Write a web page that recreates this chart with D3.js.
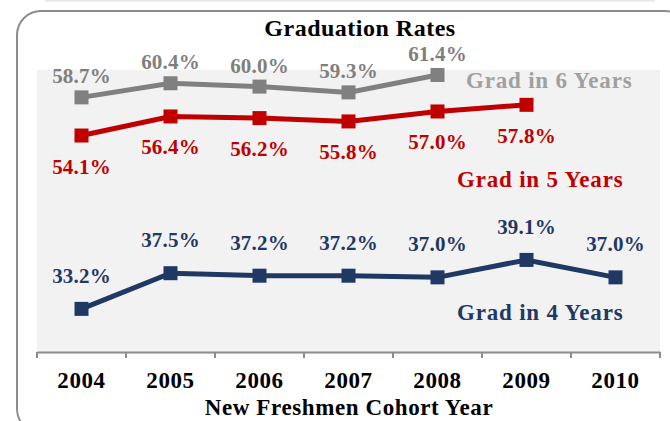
<!DOCTYPE html>
<html>
<head>
<meta charset="utf-8">
<script src="https://cdn.jsdelivr.net/npm/d3@7"></script>
<style>
  html, body { margin: 0; padding: 0; background: #fff; }
  svg { display: block; }
  svg text { font-family: "Liberation Serif", "Times New Roman", Times, serif; font-weight: bold; }
</style>
</head>
<body>
<svg id="chart" width="670" height="421"></svg>
<script>
// --- Data ---
const years = ["2004", "2005", "2006", "2007", "2008", "2009", "2010"];
const grad6 = [58.7, 60.4, 60.0, 59.3, 61.4, null, null];
const grad5 = [54.1, 56.4, 56.2, 55.8, 57.0, 57.8, null];
const grad4 = [33.2, 37.5, 37.2, 37.2, 37.0, 39.1, 37.0];
const seriesNames = ["Grad in 6 Years", "Grad in 5 Years", "Grad in 4 Years"];

const svg = d3.select("#chart");
const plot = { left: 37, right: 660, top: 70, bottom: 352 };

// outer rounded frame + faint top rule
svg.append("line")
  .attr("x1", 45).attr("x2", 655).attr("y1", 0.5).attr("y2", 0.5)
  .attr("stroke", "#e6e6e6").attr("stroke-width", 2);
svg.append("rect")
  .attr("x", 17).attr("y", 11).attr("width", 672).attr("height", 422)
  .attr("rx", 24).attr("fill", "none")
  .attr("stroke", "#8c8c8c").attr("stroke-width", 2);

const x = d3.scaleBand().domain(years).range([plot.left, plot.right]);
const y = d3.scaleLinear().domain([28, 62]).range([plot.bottom, plot.top]);
const cx = (d) => x(d) + x.bandwidth() / 2;

svg.append("rect")
  .attr("x", plot.left).attr("y", plot.top)
  .attr("width", plot.right - plot.left).attr("height", plot.bottom - plot.top)
  .attr("fill", "#f2f2f2");

// x axis
const xAxis = svg.append("g")
  .attr("transform", `translate(0,${plot.bottom})`)
  .call(d3.axisBottom(x).tickSize(0).tickPadding(20));
xAxis.select(".domain").attr("stroke", "#8c8c8c").attr("stroke-width", 2);
xAxis.selectAll("text")
  .attr("font-size", 23).attr("font-family", null)
  .attr("fill", "#000").attr("letter-spacing", 0.6);
svg.append("g").selectAll("line")
  .data(years.concat(["end"]))
  .join("line")
  .attr("x1", (d) => (d === "end" ? plot.right : x(d)))
  .attr("x2", (d) => (d === "end" ? plot.right : x(d)))
  .attr("y1", plot.bottom).attr("y2", plot.bottom + 6)
  .attr("stroke", "#8c8c8c").attr("stroke-width", 2);

svg.append("text")
  .attr("x", 349).attr("y", 415).attr("text-anchor", "middle")
  .attr("font-size", 23).attr("letter-spacing", 0.6)
  .text("New Freshmen Cohort Year");

svg.append("text")
  .attr("x", 360).attr("y", 36).attr("text-anchor", "middle")
  .attr("font-size", 24).attr("letter-spacing", 0.5)
  .text("Graduation Rates");

// --- Series ---
const series = [
  { name: seriesNames[0], values: grad6, color: "#808080", labelColor: "#7f7f7f", legendColor: "#a0a0a0", dy: -14, legend: [466, 88] },
  { name: seriesNames[1], values: grad5, color: "#c00000", labelColor: "#c00000", legendColor: "#c00000", dy: 38, legend: [457, 187] },
  { name: seriesNames[2], values: grad4, color: "#1f3864", labelColor: "#1f3864", legendColor: "#1f3864", dy: -26, legend: [457, 320] },
];

const line = d3.line()
  .defined((d) => d.v != null)
  .x((d) => cx(d.year))
  .y((d) => y(d.v));

series.forEach((s) => {
  const pts = years.map((yr, i) => ({ year: yr, v: s.values[i] }));
  const valid = pts.filter((d) => d.v != null);
  const g = svg.append("g");

  g.append("path")
    .datum(pts)
    .attr("fill", "none")
    .attr("stroke", s.color)
    .attr("stroke-width", 5)
    .attr("d", line);

  g.selectAll("rect")
    .data(valid)
    .join("rect")
    .attr("x", (d) => cx(d.year) - 7)
    .attr("y", (d) => y(d.v) - 7)
    .attr("width", 14).attr("height", 14)
    .attr("fill", s.color);

  g.selectAll("text")
    .data(valid)
    .join("text")
    .attr("x", (d) => cx(d.year))
    .attr("y", (d) => y(d.v) + s.dy)
    .attr("text-anchor", "middle")
    .attr("font-size", 21).attr("letter-spacing", 0.2)
    .attr("fill", s.labelColor)
    .text((d) => d.v.toFixed(1) + "%");

  svg.append("text")
    .attr("x", s.legend[0]).attr("y", s.legend[1])
    .attr("font-size", 23).attr("letter-spacing", 0.8)
    .attr("fill", s.legendColor)
    .text(s.name);
});
</script>
</body>
</html>
